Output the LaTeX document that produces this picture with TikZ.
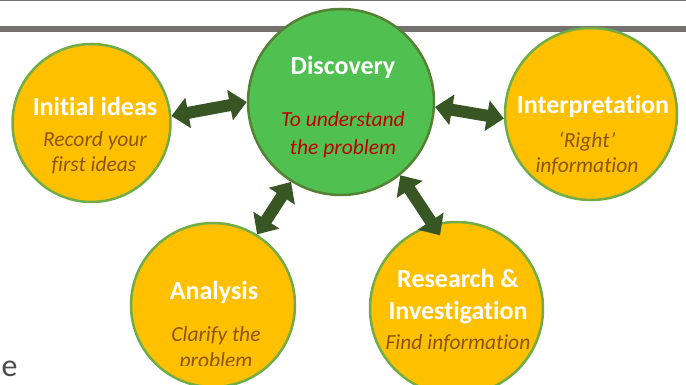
\documentclass[tikz,border=0pt]{standalone}
\usepackage{fontspec}
\setmainfont{Carlito}[Ligatures=NoCommon]
\usetikzlibrary{arrows.meta}
\definecolor{orng}{HTML}{FFC000}
\definecolor{orngborder}{HTML}{70AD47}
\definecolor{discfill}{HTML}{50C150}
\definecolor{discborder}{HTML}{548235}
\definecolor{arrowgreen}{HTML}{375623}
\definecolor{subbrown}{RGB}{140,85,0}
\definecolor{subred}{HTML}{C00000}
\definecolor{bargray}{HTML}{767171}
\tikzset{
  phase/.style={circle, draw=orngborder, fill=orng, line width=2.5pt, inner sep=0pt},
  disco/.style={circle, draw=discborder, fill=discfill, line width=2.5pt, inner sep=0pt},
  title/.style={anchor=base, text=white, inner sep=0pt, font=\fontsize{26}{30}\selectfont\bfseries},
  sub/.style={anchor=base, text=subbrown, inner sep=0pt, font=\fontsize{21.5}{25}\selectfont\itshape},
  subr/.style={anchor=base, text=subred, inner sep=0pt, font=\fontsize{21.5}{25}\selectfont\itshape},
  dblarrow/.style={draw=arrowgreen, line width=12pt,
    {Triangle[width=30pt,length=17pt]}-{Triangle[width=30pt,length=17pt]}}
}
\begin{document}
\begin{tikzpicture}[x=1pt,y=1pt]
\useasboundingbox (0,0) rectangle (686,385);
\clip (0,0) rectangle (686,385);
% top rules
\draw[bargray, line width=1.3pt] (0,384.4) -- (686,384.4);
\draw[bargray, line width=5.5pt] (0,356) -- (686,356);
% circles
\node[disco, minimum size=186pt] (disc) at (341,283) {};
\node[phase, minimum size=158pt] (init) at (91.5,262) {};
\node[phase, minimum size=172pt] (interp) at (591,271) {};
\node[phase, minimum size=164pt] (anal) at (213,80) {};
\node[phase, minimum size=173pt] (res) at (456.5,76.5) {};
% connectors
\path (res.center) ++(102.7:75) coordinate (restip);
\draw[dblarrow] (init.5.6) -- (disc.180);
\draw[dblarrow] (disc.-3.6) -- (interp.183.4);
\draw[dblarrow] (disc.238) -- (anal.58);
\draw[dblarrow] (disc.309) -- (restip);
% texts
\node[title] (t1) at (343,310) {Discovery};
\node[subr] (s1a) at (343,258) {To understand};
\node[subr] (s1b) at (343,230) {the problem};
\node[title] (t2) at (95,269) {Initial ideas};
\node[sub] (s2a) at (95,238) {Record your};
\node[sub] (s2b) at (94,213) {first ideas};
\node[title] (t3) at (593,271) {Interpretation};
\node[sub] (s3a) at (587,237) {‘Right’};
\node[sub] (s3b) at (587,212) {information};
\node[title] (t4) at (214,85) {Analysis};
\node[sub] (s4a) at (216,43) {Clarify the};
\begin{scope}
\clip (0,19) rectangle (686,385);
\node[sub] (s4b) at (216,17.5) {problem};
\end{scope}
\node[title] (t5) at (458,97) {Research \&};
\node[title] (t5b) at (458,65) {Investigation};
\node[sub] (s5) at (458,35) {Find information};
\node[anchor=base, inner sep=0pt, text=black!70, font=\fontsize{32}{36}\selectfont] (e) at (9.5,8) {e};
\end{tikzpicture}
\end{document}
